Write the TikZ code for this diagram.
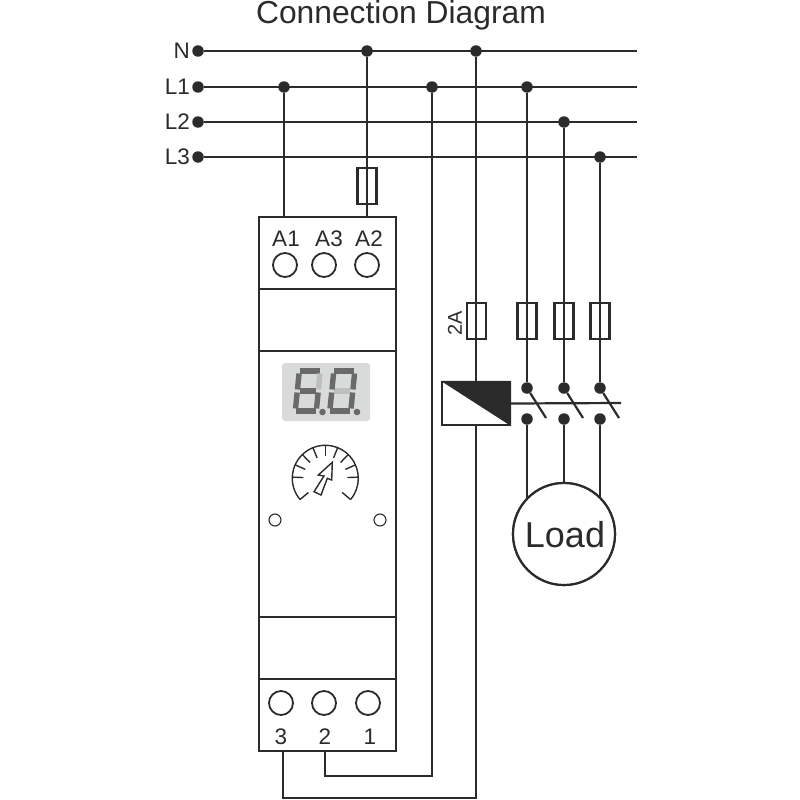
\documentclass[tikz,border=0pt]{standalone}
\usepackage{fontspec}
\setmainfont{Liberation Sans}
\definecolor{ink}{HTML}{2B2B2B}
\definecolor{panel}{HTML}{D9DBDA}
\definecolor{segon}{HTML}{6A6A6A}
\definecolor{segoff}{HTML}{BDBFBE}
\tikzset{
  wire/.style={draw=ink,line width=2.2pt},
  dot/.style={circle,fill=ink,inner sep=0pt,minimum size=11.5pt},
  term/.style={circle,draw=ink,line width=1.8pt,inner sep=0pt,minimum size=24pt},
  hole/.style={circle,draw=ink,line width=1.1pt,inner sep=0pt,minimum size=12pt},
  fuse/.style={rectangle,draw=ink,line width=2.2pt,inner sep=0pt,minimum width=19pt,minimum height=36pt},
  block/.style={rectangle,draw=ink,line width=2.2pt,inner sep=0pt,minimum width=137pt},
  lab/.style={text=ink,inner sep=0pt,font=\fontsize{22.5}{22.5}\selectfont},
  dial/.style={draw=ink,line width=1.4pt},
  segmark/.style={line width=5.4pt}
}
\begin{document}
\begin{tikzpicture}[x=1pt,y=-1pt]
  \useasboundingbox (0,0) rectangle (800,800);
  \node[lab,anchor=base,font=\fontsize{31.8}{32}\selectfont] at (401,24) (title) {Connection Diagram};
  % bus bars
  \foreach \nam/\yy in {N/51,L1/87,L2/122,L3/157} {
    \node[dot] at (198,\yy) (s\nam) {};
    \coordinate (e\nam) at (637,\yy);
    \node[lab,anchor=east] at (190,\yy) (t\nam) {\nam};
    \draw[wire] (s\nam) -- (e\nam);
  }
  \node[dot] at (284,87) (jA) {};
  \node[dot] at (367,51) (jB) {};
  \node[dot] at (432,87) (jC) {};
  \node[dot] at (476,51) (jD) {};
  \node[dot] at (527,87) (ja) {};
  \node[dot] at (564,122) (jb) {};
  \node[dot] at (600,157) (jc) {};
  % device
  \node[block,minimum height=72pt] at (327.5,253) (btop) {};
  \node[block,minimum height=62pt] at (327.5,320) (bup) {};
  \node[block,minimum height=266pt] at (327.5,484) (bmid) {};
  \node[block,minimum height=62pt] at (327.5,648) (blow) {};
  \node[block,minimum height=72pt] at (327.5,715) (bbot) {};
  \node[lab] at (286,239) (tA1) {A1};
  \node[lab] at (329,239) (tA3) {A3};
  \node[lab] at (369,239) (tA2) {A2};
  \node[term] at (285,265) (cA1) {};
  \node[term] at (324,265) (cA3) {};
  \node[term] at (367,265) (cA2) {};
  \node[term] at (281,703) (c3) {};
  \node[term] at (324,703) (c2) {};
  \node[term] at (368,703) (c1) {};
  \node[lab] at (281,737) (t3) {3};
  \node[lab] at (325,737) (t2) {2};
  \node[lab] at (370,737) (t1) {1};
  \node[fuse] at (367,186) (fA) {};
  \draw[wire] (jA) -- (jA |- btop.north);
  \draw[wire] (jB) -- (jB |- btop.north);
  % display
  \fill[panel,rounded corners=3pt] (282,363) rectangle (370,421);
  \foreach \px/\mx/\ux in {295.5/segon/segoff,330/segoff/segon} {
    \begin{scope}[shift={(\px,414)},xslant=.1]
      \draw[segmark,segon] (0,-3) -- (20,-3);
      \draw[segmark,segon] (0,-43) -- (20,-43);
      \draw[segmark,\mx] (2,-23) -- (18,-23);
      \draw[segmark,segon] (-.5,-5.5) -- (-.5,-21.5);
      \draw[segmark,segon] (-.5,-24.5) -- (-.5,-40.5);
      \draw[segmark,segon] (20.5,-5.5) -- (20.5,-21.5);
      \draw[segmark,\ux] (20.5,-24.5) -- (20.5,-40.5);
    \end{scope}
  }
  \fill[segon] (322.5,412) circle(3.3pt) (357,412) circle(3.3pt);
  % dial
  \draw[dial] (325.3,478.3) ++(220:33 and -33) arc[start angle=-220,end angle=40,radius=33];
  \foreach \ang in {220,178,156,134,112,90,68,46,24,2,-40} {
    \draw[dial] (325.3,478.3) ++(\ang:22pt) -- ++(\ang:11pt);
  }
  \draw[dial,fill=white] (332.3,462.3) -- (318.3,475) -- (324,476) -- (314,491.7) -- (321,495) -- (327.3,478.3) -- (331.7,480) -- cycle;
  \node[hole] at (275,520) (hl) {};
  \node[hole] at (380,520) (hr) {};
  % return wires
  \coordinate (k2) at (325,776);
  \coordinate (k3) at (283,798);
  \draw[wire] (jC) -- (jC |- k2) -- (k2) -- (k2 |- bbot.south);
  \draw[wire] (jD) -- (jD |- k3) -- (k3) -- (k3 |- bbot.south);
  % coil
  \node[fuse] at (476.5,321) (fD) {};
  \node[lab,font=\fontsize{20}{20}\selectfont,rotate=90] at (455,323) (t2A) {2A};
  \node[rectangle,draw=ink,line width=2.2pt,fill=white,inner sep=0pt,minimum width=68pt,minimum height=43pt] at (476,403.5) (coil) {};
  \fill[ink] (coil.north west) -- (coil.north east) -- (coil.south east) -- cycle;
  % contacts
  \coordinate (bar) at (621,403);
  \draw[wire] (coil.east) -- (bar);
  \node[circle,draw=ink,line width=2.2pt,fill=white,inner sep=0pt,minimum size=102pt] at (564,534) (load) {};
  \foreach \nam/\xx in {a/527,b/564,c/600} {
    \node[fuse] at (\xx,321) (f\nam) {};
    \node[dot] at (\xx,388) (u\nam) {};
    \node[dot] at (\xx,419) (d\nam) {};
    \coordinate (b\nam) at (\xx+19,418);
    \draw[wire] (j\nam) -- (u\nam);
    \draw[wire] (u\nam) -- (b\nam);
    \draw[wire] (d\nam) -- (d\nam |- load.center);
  }
  \node[circle,draw=ink,line width=2.2pt,fill=white,inner sep=0pt,minimum size=102pt] at (564,534) (load) {};
  \node[lab,font=\fontsize{36}{36}\selectfont] at (565,535) (tload) {Load};
\end{tikzpicture}
\end{document}
